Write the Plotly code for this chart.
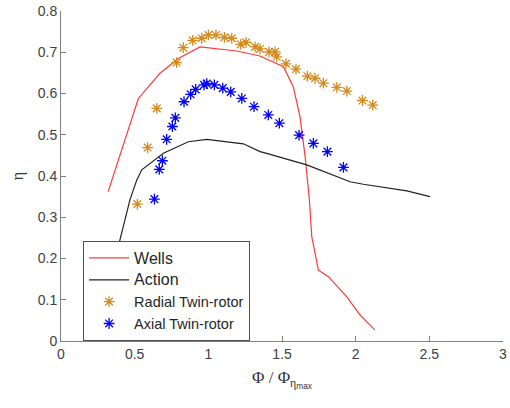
import plotly.graph_objects as go

# Wells turbine curve
wells_x = [0.32, 0.525, 0.672, 0.796, 0.944, 1.193, 1.35, 1.51, 1.577, 1.622, 1.657, 1.686, 1.702, 1.747, 1.815, 1.94, 2.03, 2.13]
wells_y = [0.362, 0.588, 0.649, 0.685, 0.713, 0.703, 0.691, 0.665, 0.616, 0.544, 0.447, 0.342, 0.253, 0.172, 0.156, 0.107, 0.063, 0.027]

# Action turbine curve
action_x = [0.25, 0.40, 0.468, 0.514, 0.548, 0.695, 0.864, 0.989, 1.238, 1.351, 1.396, 1.668, 1.962, 2.052, 2.347, 2.505]
action_y = [0.012, 0.245, 0.342, 0.39, 0.415, 0.455, 0.483, 0.489, 0.478, 0.459, 0.455, 0.427, 0.386, 0.380, 0.364, 0.350]

# Radial twin-rotor points
radial_x = [0.518, 0.588, 0.650, 0.785, 0.830, 0.894, 0.955, 1.0, 1.052, 1.109, 1.159, 1.22, 1.256, 1.317, 1.351, 1.412, 1.453, 1.464, 1.527, 1.595, 1.672, 1.724, 1.781, 1.872, 1.94, 2.046, 2.116]
radial_y = [0.332, 0.469, 0.564, 0.675, 0.711, 0.729, 0.734, 0.742, 0.742, 0.736, 0.734, 0.719, 0.724, 0.713, 0.708, 0.701, 0.701, 0.689, 0.672, 0.659, 0.642, 0.637, 0.625, 0.615, 0.606, 0.583, 0.572]

# Axial twin-rotor points
axial_x = [0.634, 0.667, 0.688, 0.717, 0.756, 0.776, 0.835, 0.880, 0.914, 0.971, 0.989, 1.041, 1.098, 1.152, 1.227, 1.31, 1.407, 1.482, 1.616, 1.713, 1.808, 1.917]
axial_y = [0.344, 0.416, 0.437, 0.489, 0.520, 0.541, 0.580, 0.598, 0.610, 0.621, 0.624, 0.621, 0.613, 0.604, 0.588, 0.568, 0.548, 0.528, 0.499, 0.479, 0.459, 0.421]

x_ticks = [0, 0.5, 1, 1.5, 2, 2.5, 3]
x_tick_labels = ["0", "0.5", "1", "1.5", "2", "2.5", "3"]
y_ticks = [0, 0.1, 0.2, 0.3, 0.4, 0.5, 0.6, 0.7, 0.8]
y_tick_labels = ["0", "0.1", "0.2", "0.3", "0.4", "0.5", "0.6", "0.7", "0.8"]

big = '<span style="font-size:16px">%s</span>'

fig = go.Figure()
fig.add_trace(go.Scatter(x=wells_x, y=wells_y, mode="lines", name=big % "Wells",
                         line=dict(color="#ff3a3a", width=1.2)))
fig.add_trace(go.Scatter(x=action_x, y=action_y, mode="lines", name=big % "Action",
                         line=dict(color="#222222", width=1.2)))
fig.add_trace(go.Scatter(x=radial_x, y=radial_y, mode="markers", name="Radial Twin-rotor",
                         marker=dict(symbol="asterisk-open", size=9, color="#D58A1C",
                                     line=dict(color="#D58A1C", width=1.3))))
fig.add_trace(go.Scatter(x=axial_x, y=axial_y, mode="markers", name="Axial Twin-rotor",
                         marker=dict(symbol="asterisk-open", size=9, color="#0000ff",
                                     line=dict(color="#0000ff", width=1.3))))

axis_common = dict(showgrid=False, zeroline=False, showline=True, linecolor="#808080",
                   linewidth=1, ticks="inside", ticklen=5, tickcolor="#808080",
                   automargin=False,
                   tickfont=dict(family="Liberation Sans, Arial", size=14, color="#404040"))

fig.update_layout(
    width=510, height=408,
    margin=dict(l=61, r=7, t=11, b=67),
    paper_bgcolor="white", plot_bgcolor="white",
    font=dict(family="Liberation Sans, Arial", color="#262626"),
    xaxis=dict(range=[0, 3], tickvals=x_ticks, ticktext=x_tick_labels,
               title=dict(text='<span style="font-family:Liberation Serif">Φ / Φ</span><sub><span style="font-family:Liberation Serif">η</span><sub>max</sub></sub>',
                          font=dict(size=17, color="#333333"), standoff=10),
               **axis_common),
    yaxis=dict(range=[0, 0.8], tickvals=y_ticks, ticktext=y_tick_labels,
               title=dict(text='<span style="font-family:Liberation Serif">η</span>',
                          font=dict(size=16, color="#333333"), standoff=10),
               **axis_common),
    legend=dict(x=0.05, y=0.303, xanchor="left", yanchor="top",
                bgcolor="white", bordercolor="#505050", borderwidth=1,
                font=dict(family="Liberation Sans, Arial", size=14.5, color="#262626"),
                tracegroupgap=0, itemwidth=40),
    showlegend=True,
)

fig.write_html("out.html")
